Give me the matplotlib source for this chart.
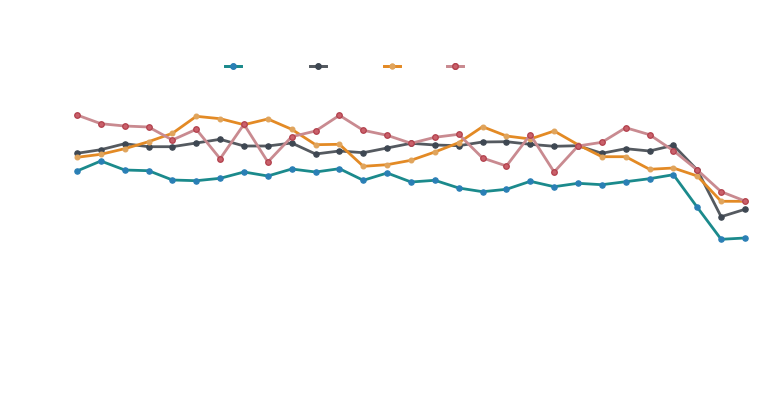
import matplotlib
matplotlib.use("Agg")
import matplotlib.pyplot as plt
import numpy as np

periods = list(range(29))

teal = [129, 139, 130, 129.3, 120, 119.3, 121.7, 128, 124, 131, 128, 131.3, 119.7, 127,
        118, 119.7, 112, 108.3, 110.7, 118.7, 113.3, 116.7, 115.3, 118.3, 121.3, 125.3,
        92.7, 60.7, 62]
gray = [146.7, 150.3, 156.3, 153.3, 153.3, 157, 160.7, 154, 154, 157, 146, 149, 147.3, 152,
        156.7, 155, 154.3, 158, 158.3, 155.7, 153.7, 154.3, 146.7, 151.3, 149, 154.7,
        130, 83.3, 90.7]
orange = [142.7, 145.7, 151.3, 158.3, 166.7, 183.7, 181.3, 175.3, 181, 170.7, 155.3, 155.7,
          133.7, 135.3, 139.7, 148, 157.3, 173.3, 164, 161, 169, 155.3, 143.3, 143.3, 130.7,
          132, 124, 98.7, 98.7]
pink = [185, 176.3, 174, 173, 160, 170.7, 141.3, 175.7, 138, 163.3, 169, 184.7, 169.7, 164.7,
        156.7, 162.7, 165.7, 142, 134, 165.3, 128, 154, 157.7, 172.3, 165.3, 149.3, 130,
        108.3, 99]

series = [
    (teal, "#1b8a8c", "#2a7fb5", "#2a7fb5", 3.8),
    (gray, "#555a60", "#3e4752", "#3e4752", 3.8),
    (orange, "#e38a25", "#e0a45c", "#e0a45c", 3.4),
    (pink, "#c98a90", "#c9606a", "#b2404c", 4.0),
]

fig = plt.figure(figsize=(7.68, 3.93), dpi=100)
ax = fig.add_axes([0, 0, 1, 1])
ax.set_xlim(-77 / 23.857, (768 - 77) / 23.857)
ax.set_ylim(-93, 300)
ax.axis("off")

handles = []
for vals, lc, mfc, mec, ms in series:
    ln, = ax.plot(periods, vals, color=lc, lw=2, marker="o", markersize=ms,
                  markerfacecolor=mfc, markeredgecolor=mec, markeredgewidth=0.9,
                  solid_joinstyle="round")
    handles.append(ln)

centers = [233, 318, 392, 455]
for h, cx in zip(handles, centers):
    leg = fig.legend([h], [""], loc="center", bbox_to_anchor=(cx / 768, 1 - 67 / 393),
                     frameon=False, handlelength=1.2, handletextpad=0, borderpad=0,
                     borderaxespad=0, fontsize=10)
    fig.add_artist(leg)

fig.savefig("out.png", dpi=100)
